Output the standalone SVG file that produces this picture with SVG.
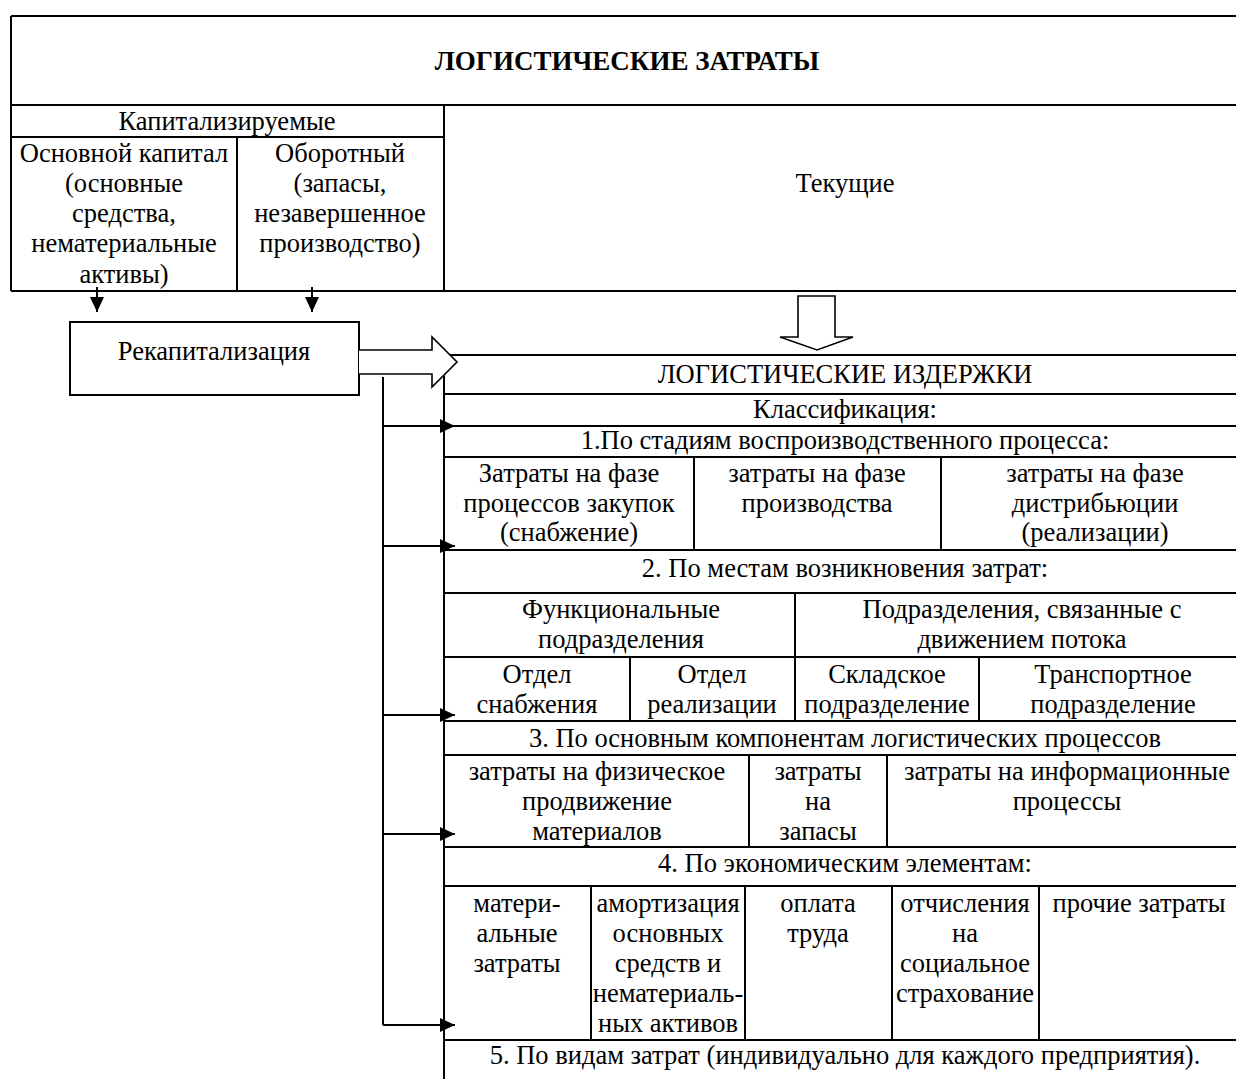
<svg xmlns="http://www.w3.org/2000/svg" width="1236" height="1079" viewBox="0 0 1236 1079">
  <style>
    .t { font-family: "Liberation Serif", "Times New Roman", serif; font-size: 26.5px; fill: #000; text-anchor: middle; }
    .b { font-weight: bold; font-size: 27px; }
    .ln { stroke: #000; stroke-width: 2; fill: none; }
    .blk { stroke: #000; stroke-width: 1.6; fill: #fff; stroke-linejoin: miter; }
    .con { stroke: #000; stroke-width: 2; fill: none; }
  </style>
  <defs>
    <marker id="ah" markerUnits="userSpaceOnUse" markerWidth="16" markerHeight="14" refX="15" refY="7" orient="auto">
      <path d="M0,0 L15,7 L0,14 Z" fill="#000"/>
    </marker>
  </defs>
  <rect width="1236" height="1079" fill="#fff"/>

  <!-- Logistic costs header block -->
  <g id="costs-title">
    <path class="ln" d="M11,16 H1248 M11,16 V291 M11,105 H1248"/>
    <text class="t b" x="627" y="70">ЛОГИСТИЧЕСКИЕ ЗАТРАТЫ</text>
  </g>
  <g id="capitalized">
    <path class="ln" d="M11,137 H444 M444,105 V291"/>
    <text class="t" x="227" y="130">Капитализируемые</text>
  </g>
  <g id="fixed-capital">
    <path class="ln" d="M237,137 V291 M11,291 H237"/>
    <text class="t" x="124" y="162">Основной капитал</text>
    <text class="t" x="124" y="192">(основные</text>
    <text class="t" x="124" y="222">средства,</text>
    <text class="t" x="124" y="252">нематериальные</text>
    <text class="t" x="124" y="283">активы)</text>
  </g>
  <g id="working-capital">
    <path class="ln" d="M237,291 H444"/>
    <text class="t" x="340" y="162">Оборотный</text>
    <text class="t" x="340" y="192">(запасы,</text>
    <text class="t" x="340" y="222">незавершенное</text>
    <text class="t" x="340" y="252">производство)</text>
  </g>
  <g id="current">
    <path class="ln" d="M444,291 H1248"/>
    <text class="t" x="845" y="192">Текущие</text>
  </g>

  <!-- Recapitalization -->
  <g id="recapitalization">
    <rect class="ln" x="70" y="322" width="289" height="73"/>
    <text class="t" x="214" y="360">Рекапитализация</text>
  </g>

  <!-- Logistic expenses table -->
  <g id="expenses-title">
    <path class="ln" d="M444,355 V1079 M444,355 H1248 M444,394 H1248"/>
    <text class="t" x="845" y="383">ЛОГИСТИЧЕСКИЕ ИЗДЕРЖКИ</text>
  </g>
  <g id="classification">
    <path class="ln" d="M444,426 H1248"/>
    <text class="t" x="845" y="418">Классификация:</text>
  </g>
  <g id="by-stages">
    <path class="ln" d="M444,457 H1248"/>
    <text class="t" x="845" y="449">1.По стадиям воспроизводственного процесса:</text>
  </g>
  <g id="stage-cells">
    <path class="ln" d="M694,457 V550 M941,457 V550 M444,550 H1248"/>
    <text class="t" x="569" y="482">Затраты на фазе</text>
    <text class="t" x="569" y="512">процессов закупок</text>
    <text class="t" x="569" y="541">(снабжение)</text>
    <text class="t" x="817" y="482">затраты на фазе</text>
    <text class="t" x="817" y="512">производства</text>
    <text class="t" x="1095" y="482">затраты на фазе</text>
    <text class="t" x="1095" y="512">дистрибьюции</text>
    <text class="t" x="1095" y="541">(реализации)</text>
  </g>
  <g id="by-places">
    <path class="ln" d="M444,593 H1248"/>
    <text class="t" x="845" y="577">2. По местам возникновения затрат:</text>
  </g>
  <g id="place-groups">
    <path class="ln" d="M795,593 V721 M444,657 H1248"/>
    <text class="t" x="621" y="618">Функциональные</text>
    <text class="t" x="621" y="648">подразделения</text>
    <text class="t" x="1022" y="618">Подразделения, связанные с</text>
    <text class="t" x="1022" y="648">движением потока</text>
  </g>
  <g id="place-cells">
    <path class="ln" d="M630,657 V721 M979,657 V721 M444,721 H1248"/>
    <text class="t" x="537" y="683">Отдел</text>
    <text class="t" x="537" y="713">снабжения</text>
    <text class="t" x="712" y="683">Отдел</text>
    <text class="t" x="712" y="713">реализации</text>
    <text class="t" x="887" y="683">Складское</text>
    <text class="t" x="887" y="713">подразделение</text>
    <text class="t" x="1113" y="683">Транспортное</text>
    <text class="t" x="1113" y="713">подразделение</text>
  </g>
  <g id="by-components">
    <path class="ln" d="M444,755 H1248"/>
    <text class="t" x="845" y="747">3. По основным компонентам логистических процессов</text>
  </g>
  <g id="component-cells">
    <path class="ln" d="M749,755 V847 M887,755 V847 M444,847 H1248"/>
    <text class="t" x="597" y="780">затраты на физическое</text>
    <text class="t" x="597" y="810">продвижение</text>
    <text class="t" x="597" y="840">материалов</text>
    <text class="t" x="818" y="780">затраты</text>
    <text class="t" x="818" y="810">на</text>
    <text class="t" x="818" y="840">запасы</text>
    <text class="t" x="1067" y="780">затраты на информационные</text>
    <text class="t" x="1067" y="810">процессы</text>
  </g>
  <g id="by-elements">
    <path class="ln" d="M444,886 H1248"/>
    <text class="t" x="845" y="872">4. По экономическим элементам:</text>
  </g>
  <g id="element-cells">
    <path class="ln" d="M591,886 V1040 M745,886 V1040 M892,886 V1040 M1039,886 V1040 M444,1040 H1248"/>
    <text class="t" x="517" y="912">матери-</text>
    <text class="t" x="517" y="942">альные</text>
    <text class="t" x="517" y="972">затраты</text>
    <text class="t" x="668" y="912">амортизация</text>
    <text class="t" x="668" y="942">основных</text>
    <text class="t" x="668" y="972">средств и</text>
    <text class="t" x="668" y="1002">нематериаль-</text>
    <text class="t" x="668" y="1032">ных активов</text>
    <text class="t" x="818" y="912">оплата</text>
    <text class="t" x="818" y="942">труда</text>
    <text class="t" x="965" y="912">отчисления</text>
    <text class="t" x="965" y="942">на</text>
    <text class="t" x="965" y="972">социальное</text>
    <text class="t" x="965" y="1002">страхование</text>
    <text class="t" x="1139" y="912">прочие затраты</text>
  </g>
  <g id="by-types">
    <text class="t" x="845" y="1064">5. По видам затрат (индивидуально для каждого предприятия).</text>
  </g>

  <!-- Connectors -->
  <g id="connectors">
    <line class="con" x1="97" y1="287" x2="97" y2="312" marker-end="url(#ah)"/>
    <line class="con" x1="312" y1="287" x2="312" y2="312" marker-end="url(#ah)"/>
    <path class="blk" d="M798,296 H835 V337 H853 L817,350 L780,337 H798 Z"/>
    <path class="blk" d="M359,350 H432 V337 L457,362 L432,387 V374 H359"/>
    <path class="con" d="M383,377 V1025"/>
    <line class="con" x1="383" y1="426" x2="455" y2="426" marker-end="url(#ah)"/>
    <line class="con" x1="383" y1="546" x2="455" y2="546" marker-end="url(#ah)"/>
    <line class="con" x1="383" y1="715" x2="455" y2="715" marker-end="url(#ah)"/>
    <line class="con" x1="383" y1="834" x2="455" y2="834" marker-end="url(#ah)"/>
    <line class="con" x1="383" y1="1025" x2="455" y2="1025" marker-end="url(#ah)"/>
  </g>
</svg>
